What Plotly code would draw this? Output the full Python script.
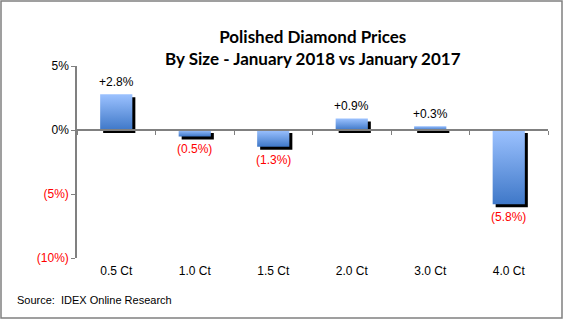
import plotly.graph_objects as go

# Price change by stone size, Jan 2018 vs Jan 2017 (percent)
categories = ["0.5 Ct", "1.0 Ct", "1.5 Ct", "2.0 Ct", "3.0 Ct", "4.0 Ct"]
changes = [2.8, -0.5, -1.3, 0.9, 0.3, -5.8]
y_tick_vals = [5, 0, -5, -10]
y_tick_text = ["5%", "0%", "<span style='color:#FF0000'>(5%)</span>",
               "<span style='color:#FF0000'>(10%)</span>"]

W, H = 565, 321
ML, MR, MT, MB = 77, 17, 66, 63
X_RANGE = [-0.5, 5.5]
Y_RANGE = [-10, 5]

BAR_HALF = 0.205                     # half bar width in category units
px_x = (X_RANGE[1] - X_RANGE[0]) / (W - ML - MR)
px_y = (Y_RANGE[1] - Y_RANGE[0]) / (H - MT - MB)
SHADOW_DX, SHADOW_DY = 3 * px_x, -3 * px_y


def fmt(v):
    return f"+{v:.1f}%" if v >= 0 else f"({abs(v):.1f}%)"


fig = go.Figure()

# drop shadows
for i, v in enumerate(changes):
    x0, x1 = i - BAR_HALF + SHADOW_DX, i + BAR_HALF + SHADOW_DX
    y0, y1 = SHADOW_DY, v + SHADOW_DY
    fig.add_trace(go.Scatter(
        x=[x0, x1, x1, x0, x0], y=[y0, y0, y1, y1, y0],
        mode="lines", fill="toself", fillcolor="#000000",
        line=dict(width=0), hoverinfo="skip", showlegend=False))

# gradient bars
for i, v in enumerate(changes):
    x0, x1 = i - BAR_HALF, i + BAR_HALF
    fig.add_trace(go.Scatter(
        x=[x0, x1, x1, x0, x0], y=[0, 0, v, v, 0],
        mode="lines", fill="toself",
        fillgradient=dict(type="vertical",
                          colorscale=[[0, "#3F78C8"], [1, "#9CC2FF"]]),
        line=dict(width=0), hoverinfo="skip", showlegend=False,
        name=categories[i]))

# helper trace for the zero-line axis
fig.add_trace(go.Scatter(x=X_RANGE, y=[0, 0], xaxis="x2", mode="lines",
                         line=dict(width=0), hoverinfo="skip",
                         showlegend=False))

zero_pos = (0 - Y_RANGE[0]) / (Y_RANGE[1] - Y_RANGE[0])

# value labels, placed just beyond the end of each bar
value_labels = [
    dict(x=i, y=v, xref="x", yref="y", text=fmt(v), showarrow=False,
         xanchor="center", yanchor="middle",
         yshift=12 if v >= 0 else -13,
         font=dict(family="Liberation Sans, Arial", size=12,
                   color="#000000" if v >= 0 else "#FF0000"))
    for i, v in enumerate(changes)
]

fig.update_layout(
    width=W, height=H,
    margin=dict(l=ML, r=MR, t=MT, b=MB),
    paper_bgcolor="#FFFFFF", plot_bgcolor="#FFFFFF",
    font=dict(family="Liberation Sans, Arial", size=12, color="#000000"),
    xaxis=dict(range=X_RANGE, tickmode="array",
               tickvals=list(range(len(categories))), ticktext=categories,
               showline=False, showgrid=False, zeroline=False, ticks="",
               ticklabelstandoff=4, fixedrange=True,
               tickfont=dict(size=12)),
    xaxis2=dict(range=X_RANGE, overlaying="x", anchor="free",
                position=zero_pos, side="bottom",
                tickmode="array",
                tickvals=[k - 0.5 for k in range(len(categories) + 1)],
                showticklabels=False, ticks="outside", ticklen=4,
                tickcolor="#808080", showline=True, linecolor="#808080",
                linewidth=1.5, showgrid=False, zeroline=False),
    yaxis=dict(range=Y_RANGE, tickmode="array", tickvals=y_tick_vals,
               ticktext=y_tick_text, showline=True, linecolor="#808080",
               linewidth=1.5, ticks="outside", ticklen=4,
               tickcolor="#808080", showgrid=False, zeroline=False,
               tickfont=dict(size=12), fixedrange=True),
    shapes=[dict(type="rect", xref="paper", yref="paper",
                 x0=(1 - ML) / (W - ML - MR), x1=(562 - ML) / (W - ML - MR),
                 y0=-(318 - (H - MB)) / (H - MT - MB),
                 y1=1 + (MT - 1) / (H - MT - MB),
                 line=dict(color="#808080", width=1.5), layer="below")],
    annotations=value_labels + [
        dict(text="<b>Polished Diamond Prices</b><br><b>By Size - January 2018 vs January 2017</b>",
             xref="paper", yref="paper", x=0.5, y=1 + (MT - 24) / (H - MT - MB),
             xanchor="center", yanchor="top", showarrow=False,
             font=dict(family="Lato, Liberation Sans", size=17, color="#000000"),
             align="center"),
        dict(text="Source:  IDEX Online Research",
             xref="paper", yref="paper", x=-(ML - 15) / (W - ML - MR),
             y=-(300 - (H - MB)) / (H - MT - MB),
             xanchor="left", yanchor="middle", showarrow=False,
             font=dict(family="Liberation Sans, Arial", size=11, color="#000000")),
    ],
)

fig.write_html("out.html")
